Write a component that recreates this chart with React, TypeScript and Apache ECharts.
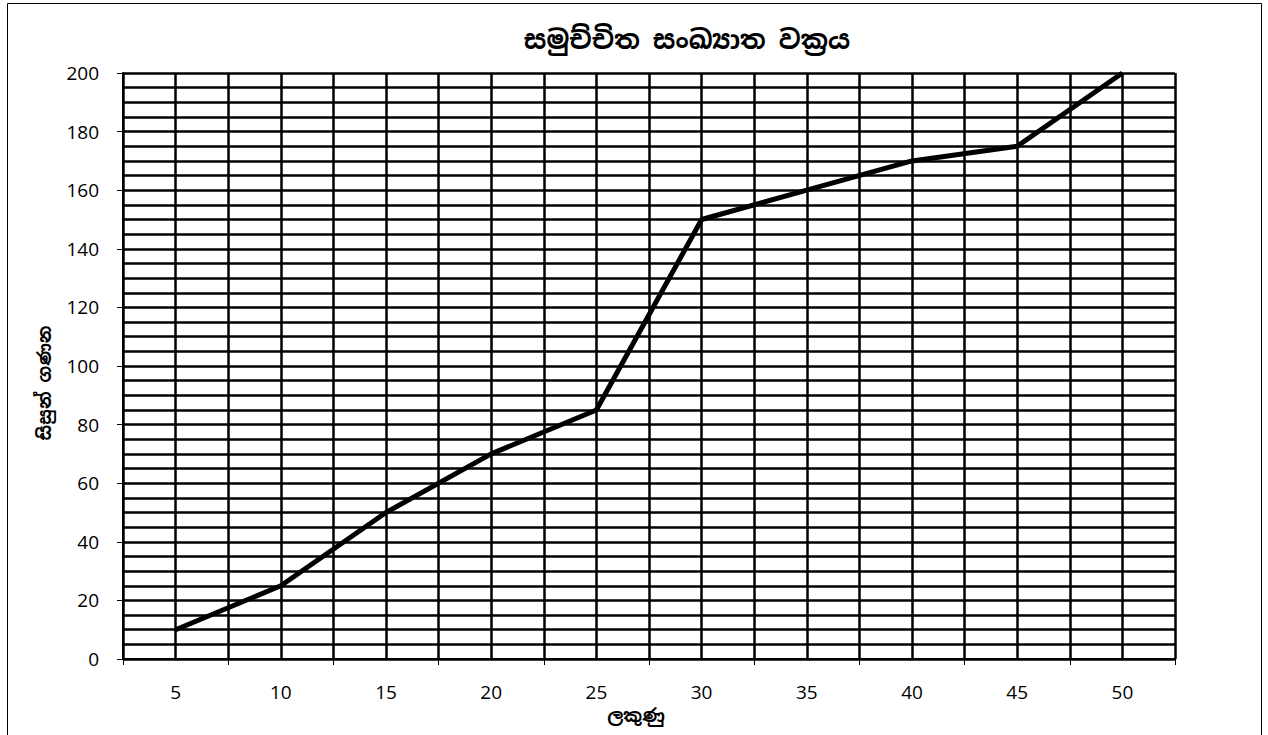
import React, { useEffect, useRef } from "react";
import * as echarts from "echarts";

const titleText = "සමුච්චිත සංඛ්‍යාත වක්‍රය";
const xName = "ලකුණු";
const yName = "සිසුන් ගණන";
const marks = ["5", "10", "15", "20", "25", "30", "35", "40", "45", "50"];
const students = [10, 25, 50, 70, 85, 150, 160, 170, 175, 200];

const FONT = "'Open Sans', 'Noto Sans', sans-serif";
const SIN_FONT = "'Noto Sans Sinhala', 'Noto Sans', sans-serif";

export default function App() {
  const ref = useRef<HTMLDivElement>(null);
  useEffect(() => {
    if (!ref.current) return;
    const chart = echarts.init(ref.current, null, { renderer: "svg" });
    chart.setOption({
      animation: false,
      backgroundColor: "#ffffff",
      title: {
        text: titleText,
        left: 682,
        top: 22,
        textAlign: "center",
        textStyle: { fontFamily: SIN_FONT, fontSize: 26, fontWeight: "bold", color: "#000" },
      },
      graphic: [
        {
          type: "rect",
          shape: { x: 7.5, y: 3.5, width: 1254, height: 760 },
          style: { fill: "none", stroke: "#000", lineWidth: 1 },
          silent: true,
        },
      ],
      grid: { left: 123, right: 93, top: 73, bottom: 76, containLabel: false },
      xAxis: [
        {
          type: "category",
          data: marks,
          boundaryGap: true,
          name: xName,
          nameLocation: "middle",
          nameGap: 47,
          nameTextStyle: { fontFamily: SIN_FONT, fontSize: 18, fontWeight: "bold", color: "#000", padding: [0, 26, 0, 0] },
          axisLine: { show: true, lineStyle: { color: "#000", width: 2 } },
          axisTick: { show: true, length: 6, lineStyle: { color: "#000", width: 1 } },
          axisLabel: { margin: 23, fontFamily: FONT, fontSize: 19, color: "#000" },
          splitLine: { show: false },
        },
        {
          type: "value",
          min: 0,
          max: 20,
          interval: 1,
          position: "top",
          show: true,
          axisLine: { show: false },
          axisTick: { show: false },
          axisLabel: { show: false },
          splitLine: { show: true, lineStyle: { color: "#000", width: 2.5 } },
        },
      ],
      yAxis: {
        type: "value",
        min: 0,
        max: 200,
        interval: 20,
        name: yName,
        nameLocation: "middle",
        nameGap: 70,
        nameRotate: 90,
        nameTextStyle: { fontFamily: SIN_FONT, fontSize: 18, fontWeight: "bold", color: "#000", padding: [0, 34, 0, 0] },
        axisLine: { show: true, lineStyle: { color: "#000", width: 2 } },
        axisTick: { show: true, length: 6, lineStyle: { color: "#000", width: 1 } },
        axisLabel: { margin: 24, fontFamily: FONT, fontSize: 19, color: "#000" },
        splitLine: { show: true, lineStyle: { color: "#000", width: 2.5 } },
        minorTick: { show: false, splitNumber: 4 },
        minorSplitLine: { show: true, lineStyle: { color: "#000", width: 2.5 } },
      },
      series: [
        {
          type: "line",
          xAxisIndex: 0,
          data: students,
          symbol: "none",
          lineStyle: { color: "#000", width: 5 },
          z: 5,
        },
      ],
    });
    return () => chart.dispose();
  }, []);
  return (
    <div
      ref={ref}
      style={{ position: "fixed", left: 0, top: 0, width: 1268, height: 735, background: "#fff" }}
    />
  );
}
